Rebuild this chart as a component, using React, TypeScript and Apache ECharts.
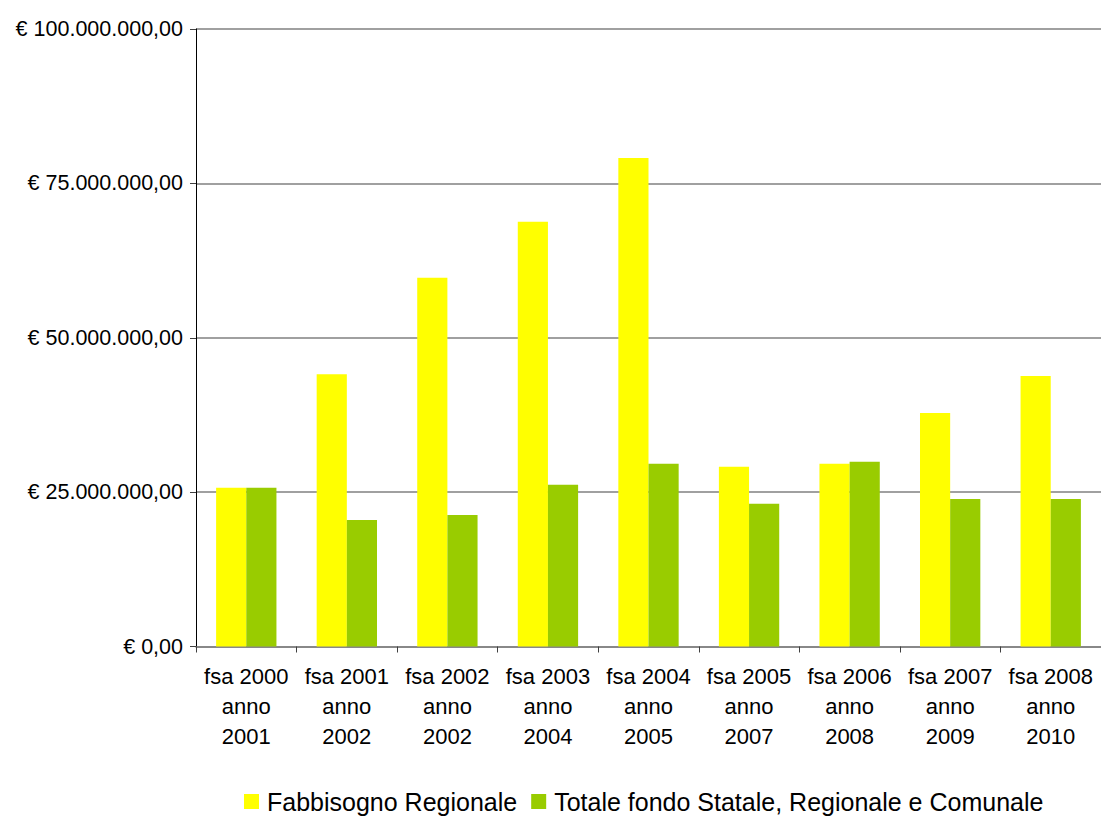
import React, { useEffect, useRef } from "react";
import * as echarts from "echarts";

const categories = [
  "fsa 2000\nanno\n2001",
  "fsa 2001\nanno\n2002",
  "fsa 2002\nanno\n2002",
  "fsa 2003\nanno\n2004",
  "fsa 2004\nanno\n2005",
  "fsa 2005\nanno\n2007",
  "fsa 2006\nanno\n2008",
  "fsa 2007\nanno\n2009",
  "fsa 2008\nanno\n2010",
];

const fabbisognoRegionale = [
  25700000, 44100000, 59700000, 68800000, 79100000, 29100000, 29600000, 37800000, 43800000,
];

const totaleFondo = [
  25700000, 20500000, 21300000, 26200000, 29600000, 23100000, 29900000, 23900000, 23900000,
];

const seriesNames = ["Fabbisogno Regionale", "Totale fondo Statale, Regionale e Comunale"];

function formatEuro(v: number): string {
  const fixed = Math.abs(v).toFixed(2);
  const [intPart, dec] = fixed.split(".");
  const withDots = intPart.replace(/\B(?=(\d{3})+(?!\d))/g, ".");
  return "€ " + (v < 0 ? "-" : "") + withDots + "," + dec;
}

export default function App() {
  const ref = useRef<HTMLDivElement>(null);

  useEffect(() => {
    if (!ref.current) return;
    const chart = echarts.init(ref.current, undefined, { renderer: "svg" });
    const font = "Arial, 'Liberation Sans', Helvetica, sans-serif";
    chart.setOption({
      animation: false,
      backgroundColor: "#ffffff",
      textStyle: { fontFamily: font },
      grid: { left: 196, top: 29, width: 912, height: 617.5, containLabel: false },
      legend: {
        left: 244,
        top: 789,
        padding: 0,
        itemWidth: 15,
        itemHeight: 15,
        itemGap: 14,
        icon: "rect",
        textStyle: {
          fontFamily: font,
          fontSize: 25,
          lineHeight: 25,
          color: "#000",
          padding: [0, 0, 0, 3],
        },
        data: seriesNames,
      },
      xAxis: {
        type: "category",
        data: categories,
        axisLine: { lineStyle: { color: "#808080", width: 1.5 } },
        axisTick: { show: true, length: 6, lineStyle: { color: "#404040" } },
        axisLabel: {
          color: "#000",
          fontSize: 22,
          fontFamily: font,
          lineHeight: 30,
          margin: 15,
          interval: 0,
        },
      },
      yAxis: {
        type: "value",
        min: 0,
        max: 100000000,
        interval: 25000000,
        axisLine: { show: true, lineStyle: { color: "#000", width: 1 } },
        axisTick: { show: true, length: 6, lineStyle: { color: "#404040" } },
        axisLabel: {
          color: "#000",
          fontSize: 21.5,
          fontFamily: font,
          margin: 13,
          formatter: (v: number) => formatEuro(v),
        },
        splitLine: { show: true, lineStyle: { color: "#808080", width: 1.5 } },
      },
      series: [
        {
          name: seriesNames[0],
          type: "bar",
          data: fabbisognoRegionale,
          barGap: "0%",
          barCategoryGap: "40%",
          itemStyle: { color: "#FFFF00" },
        },
        {
          name: seriesNames[1],
          type: "bar",
          data: totaleFondo,
          barGap: "0%",
          barCategoryGap: "40%",
          itemStyle: { color: "#99CC00" },
        },
      ],
    });
    return () => chart.dispose();
  }, []);

  return (
    <div
      ref={ref}
      style={{ position: "fixed", left: 0, top: 0, width: 1101, height: 817, background: "#fff" }}
    />
  );
}
